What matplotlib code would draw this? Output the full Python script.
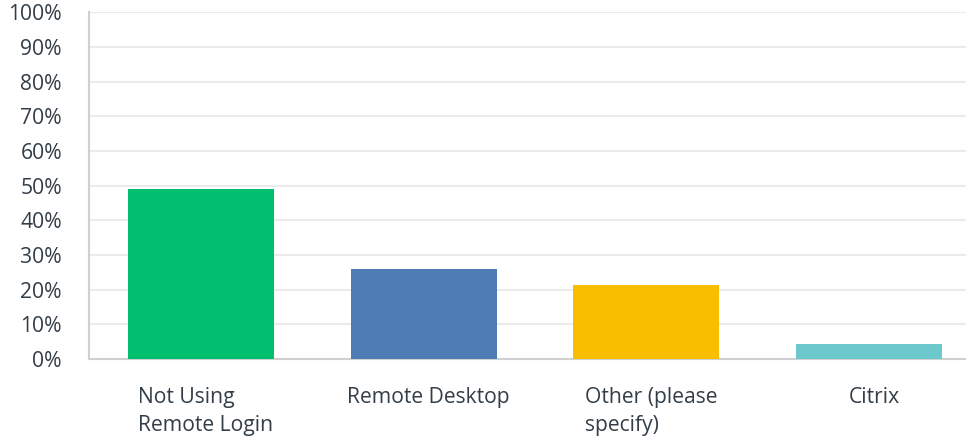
import matplotlib.pyplot as plt
from matplotlib.ticker import FuncFormatter
from matplotlib.transforms import ScaledTranslation

categories = ["Not Using\nRemote Login", "Remote Desktop", "Other (please\nspecify)", "Citrix"]
values = [49.1, 26.0, 21.4, 4.3]
colors = ["#00bf6f", "#507cb6", "#f9be00", "#6bc8cd"]
yticks = [0, 10, 20, 30, 40, 50, 60, 70, 80, 90, 100]

text_color = "#333e48"
plt.rcParams['font.family'] = ['Open Sans', 'DejaVu Sans']

fig = plt.figure(figsize=(9.66, 4.4), dpi=100)
ax = fig.add_axes([89 / 966, (440 - 359) / 440, (966 - 89) / 966, (359 - 12.5) / 440])

x = list(range(len(categories)))
ax.bar(x, values, width=0.655, color=colors, zorder=3)

ax.set_ylim(0, 100)
ax.set_xlim(-0.503, 3.436)
ax.set_yticks(yticks)
ax.yaxis.set_major_formatter(FuncFormatter(lambda v, p: "%d%%" % v))
ax.grid(axis='y', color="#ebebeb", linewidth=1.5, zorder=0)
ax.set_xticks(x)
ax.set_xticklabels(categories, multialignment='left', linespacing=1.45)

ax.tick_params(axis='y', length=0, pad=19.5, labelsize=15.2, labelcolor=text_color)
ax.tick_params(axis='x', length=0, pad=20, labelsize=15.2, labelcolor=text_color)
for lbl in ax.get_yticklabels():
    lbl.set_horizontalalignment('right')

# labels in the reference sit a few pixels right of the bar centres
shift = ScaledTranslation(5 / 100, 0, fig.dpi_scale_trans)
for lbl in ax.get_xticklabels():
    lbl.set_transform(lbl.get_transform() + shift)

for side in ['top', 'right']:
    ax.spines[side].set_visible(False)
for side in ['left', 'bottom']:
    ax.spines[side].set_color("#d0d0d0")
    ax.spines[side].set_linewidth(1.5)

fig.savefig("out.png", dpi=100)
